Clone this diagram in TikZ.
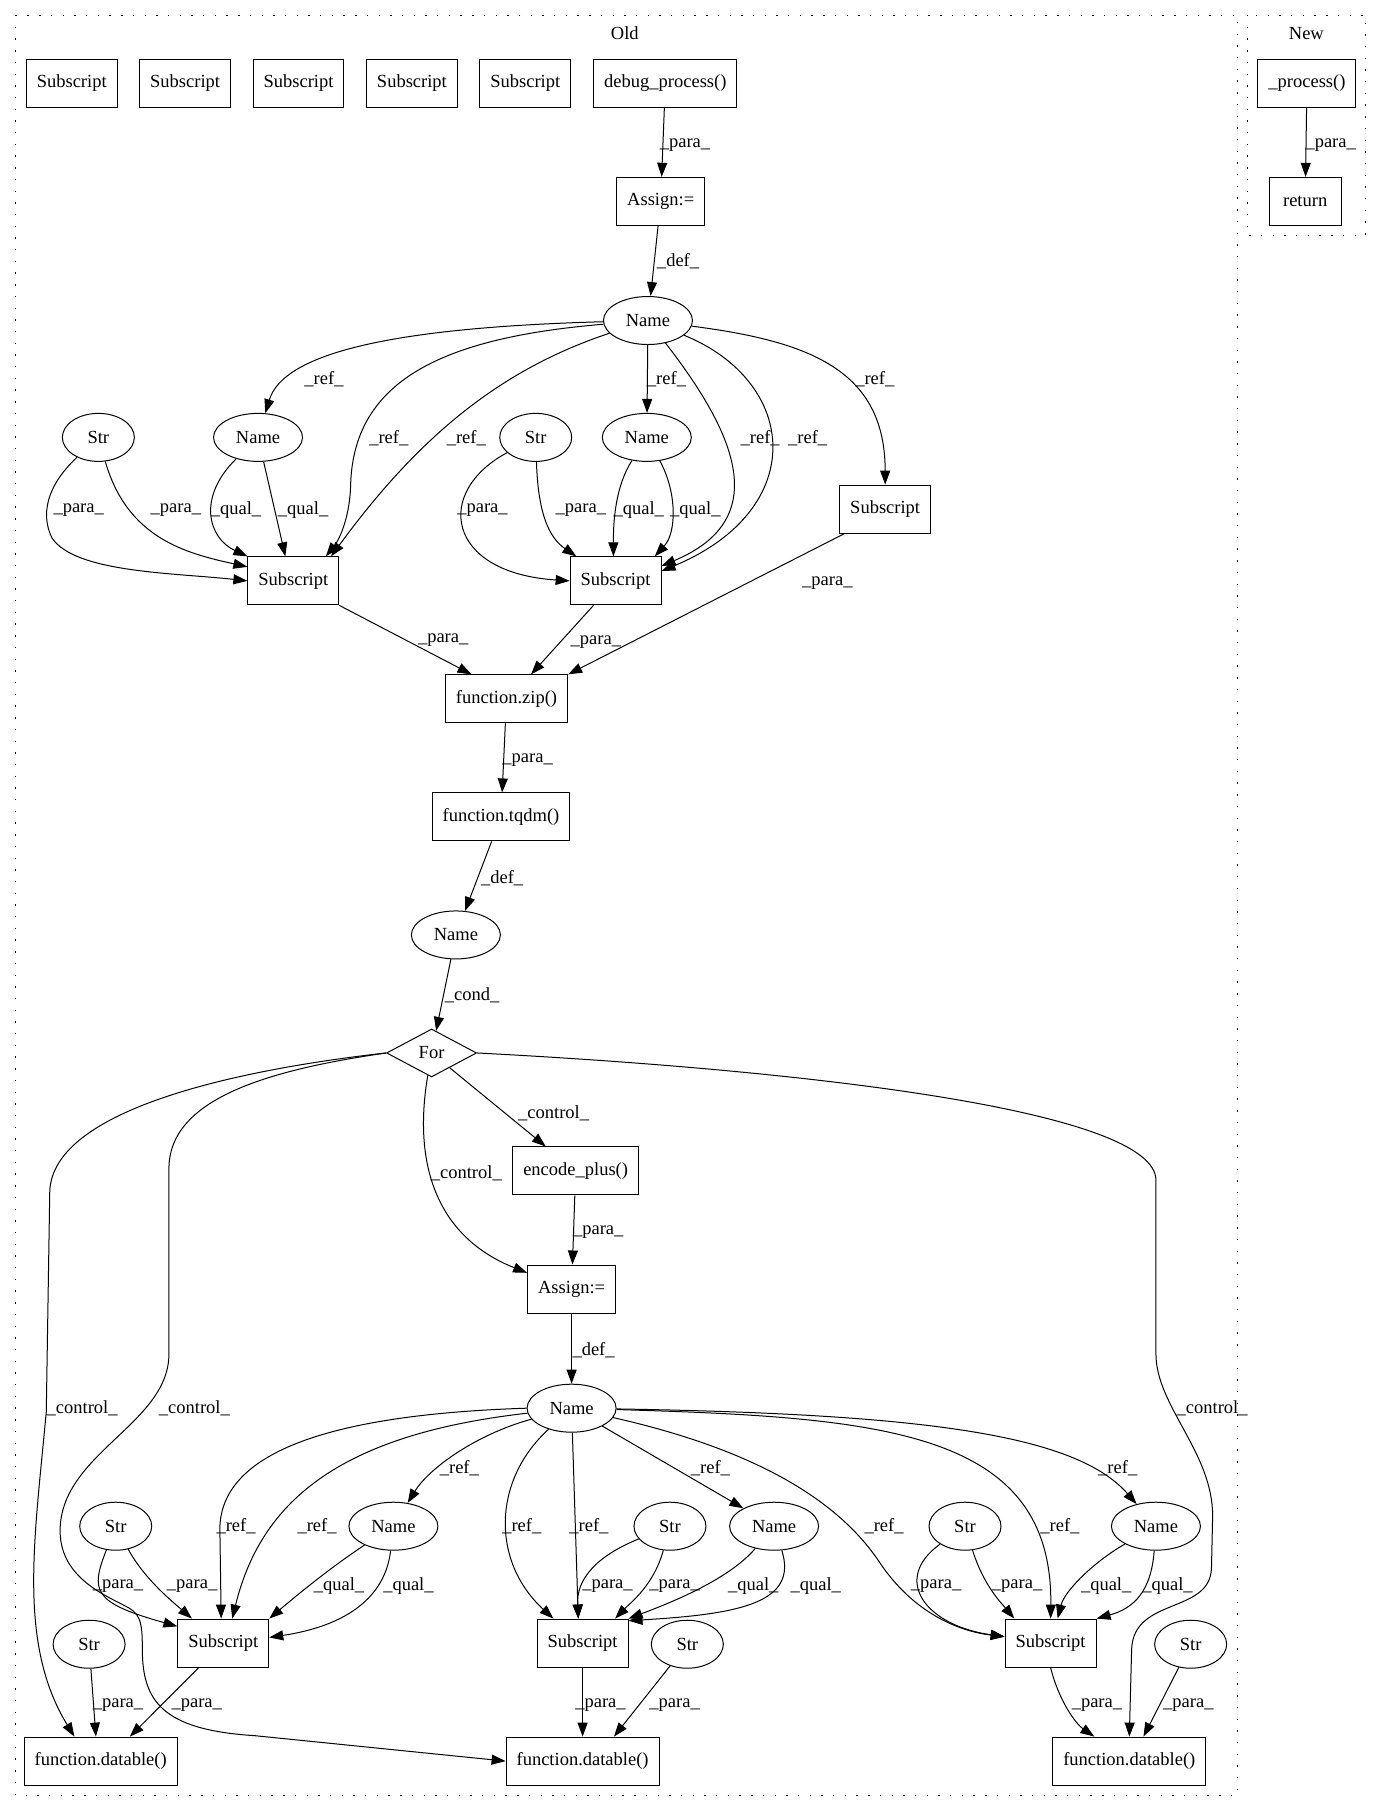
\documentclass[tikz,border=0pt]{standalone}
\usepackage{fontspec}
\setmainfont{Liberation Serif}
\usetikzlibrary{shapes.geometric,arrows.meta}
\tikzset{
  box/.style={draw, rectangle, minimum width=72pt, minimum height=48pt, inner xsep=10.5pt},
  oval/.style={draw, ellipse, minimum width=72pt, minimum height=48pt, inner sep=0pt},
  nameoval/.style={oval, minimum width=89pt},
  cond/.style={draw, diamond, minimum width=90pt, minimum height=48pt, inner sep=0pt},
  lbl/.style={inner sep=0pt},
  edge/.style={-{Triangle[length=14pt,width=10pt]}},
  cluster/.style={dash pattern=on 1.4pt off 10.3pt}
}
\begin{document}
\begin{tikzpicture}[x=1.157pt, y=-1.157pt, line width=1pt, font=\fontsize{18.5}{22}\selectfont]
      \useasboundingbox (0,0) rectangle (1193.6,1566);
      \draw[cluster] (13.5,13) rectangle (1069.5,1551.5);
      \draw[cluster] (1078,13) rectangle (1180,203.5);
      \node (old) at (540,29) {Old};
      \node (new) at (1129,29) {New};

      \node[box] (sub0a) at (62,72) {Subscript};
      \node[box] (sub0b) at (160,72) {Subscript};
      \node[box] (sub0c) at (258,72) {Subscript};
      \node[box] (sub0d) at (356,72) {Subscript};
      \node[box] (sub0e) at (454,72) {Subscript};
      \node[box] (dbg) at (575,72) {debug\_process()};
      \node[box] (asgA) at (571,174) {Assign:=};
      \node[nameoval] (nmA) at (560,277) {Name};
      \node[oval] (strL) at (85,378) {Str};
      \node[nameoval] (nmL) at (223,378) {Name};
      \node[oval] (strR) at (463,378) {Str};
      \node[nameoval] (nmR) at (559,378) {Name};
      \node[box] (subL) at (253.5,502) {Subscript};
      \node[box] (subR) at (532,502) {Subscript};
      \node[box] (subX) at (765,440) {Subscript};
      \node[box] (zipf) at (437.75,604) {function.zip()};
      \node[box] (tqdm) at (433,706) {function.tqdm()};
      \node[nameoval] (nmB) at (394,808) {Name};
      \node[cond] (loop) at (373,910) {For};
      \node[box] (enc) at (497.5,1012) {encode\_plus()};
      \node[box] (asgB) at (494,1114) {Assign:=};
      \node[nameoval] (nmC) at (494,1217) {Name};
      \node[oval] (str1) at (100,1319) {Str};
      \node[nameoval] (nm1) at (340,1319) {Name};
      \node[oval] (str2) at (579,1319) {Str};
      \node[nameoval] (nm2) at (669,1319) {Name};
      \node[oval] (str3) at (834,1319) {Str};
      \node[nameoval] (nm3) at (999,1319) {Name};
      \node[box] (sub1) at (193,1420) {Subscript};
      \node[box] (sub2) at (503.5,1420) {Subscript};
      \node[box] (sub3) at (908,1420) {Subscript};
      \node[oval] (str4) at (77,1421) {Str};
      \node[oval] (str5) at (594,1421) {Str};
      \node[oval] (str6) at (1029,1421) {Str};
      \node[box] (dt1) at (87,1522) {function.datable()};
      \node[box] (dt2) at (503.5,1522) {function.datable()};
      \node[box] (dt3) at (976,1522) {function.datable()};
      \node[box] (proc) at (1129.5,72) {\_process()};
      \node[box] (ret) at (1128,174) {return};

      \begin{scope}[edge]
        \draw (dbg) -- (asgA) node[lbl] at (592,125) {\_para\_};
        \draw (asgA) -- (nmA) node[lbl] at (586,226) {\_def\_};
        \draw (nmA) .. controls (340,283) and (245,305) .. (nmL) node[lbl] at (280,328) {\_ref\_};
        \draw (nmA) .. controls (380,292) and (305,330) .. (303,420) .. controls (302,450) and (292,468) .. (subL.37) node[lbl] at (336,379) {\_ref\_};
        \draw (nmA) .. controls (430,320) and (360,380) .. (subL.33) node[lbl] at (403,379) {\_ref\_};
        \draw (nmA) -- (nmR) node[lbl] at (576,328) {\_ref\_};
        \draw (nmA) .. controls (640,380) and (665,450) .. (subR.18) node[lbl] at (657,379) {\_ref\_};
        \draw (nmA) .. controls (690,330) and (700,440) .. (subR.12) node[lbl] at (698,379) {\_ref\_};
        \draw (nmA) .. controls (700,295) and (765,320) .. (subX) node[lbl] at (756,328) {\_ref\_};
        \draw (strL) .. controls (40,420) and (35,445) .. (45,465) .. controls (65,495) and (150,495) .. (subL.west) node[lbl] at (68,441) {\_para\_};
        \draw (strL) .. controls (110,465) and (160,478) .. (subL.163) node[lbl] at (152,441) {\_para\_};
        \draw (nmL) .. controls (170,430) and (180,465) .. (subL.north west) node[lbl] at (204,441) {\_qual\_};
        \draw (nmL) -- (subL.108) node[lbl] at (262,441) {\_qual\_};
        \draw (strR) .. controls (375,425) and (385,495) .. (subR.west) node[lbl] at (417,441) {\_para\_};
        \draw (strR) .. controls (465,445) and (475,465) .. (subR.148) node[lbl] at (502,441) {\_para\_};
        \draw (nmR) .. controls (532,420) and (530,450) .. (subR.95) node[lbl] at (552,441) {\_qual\_};
        \draw (nmR) .. controls (585,425) and (585,460) .. (subR.32) node[lbl] at (601,441) {\_qual\_};
        \draw (subL.south east) -- (zipf.145) node[lbl] at (383,553) {\_para\_};
        \draw (subR.228) -- (zipf.45) node[lbl] at (515,555) {\_para\_};
        \draw (subX.211) -- (zipf.north east) node[lbl] at (715,504) {\_para\_};
        \draw (zipf) -- (tqdm) node[lbl] at (456,657) {\_para\_};
        \draw (tqdm.249) -- (nmB) node[lbl] at (434,759) {\_def\_};
        \draw (nmB) -- (loop) node[lbl] at (408,860) {\_cond\_};
        \draw (loop) -- (enc) node[lbl] at (478.5,962) {\_control\_};
        \draw (loop) .. controls (356,1010) and (380,1070) .. (asgB.160) node[lbl] at (403,1014) {\_control\_};
        \draw (enc) -- (asgB) node[lbl] at (517,1065) {\_para\_};
        \draw (asgB) -- (nmC) node[lbl] at (513,1167) {\_def\_};
        \draw (loop.west) .. controls (200,925) and (45,960) .. (43,1030) -- (40,1220) .. controls (30,1330) and (15,1420) .. (dt1.137) node[lbl] at (71,1217) {\_control\_};
        \draw (loop.west) .. controls (230,925) and (146,950) .. (146,1010) -- (146,1170) .. controls (146,1230) and (55,1255) .. (52,1320) .. controls (50,1365) and (95,1380) .. (112,1390) .. controls (122,1396) and (123,1405) .. (123,1425) .. controls (123,1470) and (140,1495) .. (220,1500) -- (dt2.west) node[lbl] at (168,1217) {\_control\_};
        \draw (loop.east) .. controls (700,925) and (999,960) .. (999,1020) -- (999,1170) .. controls (999,1215) and (1048,1255) .. (1048,1310) -- (1047,1355) .. controls (1046,1395) and (980,1380) .. (978,1425) -- (dt3.north) node[lbl] at (1047.6,1217) {\_control\_};
        \draw (nmC.west) .. controls (300,1222) and (192,1250) .. (190,1320) -- (sub1.95) node[lbl] at (204,1319) {\_ref\_};
        \draw (nmC) .. controls (290,1240) and (225,1300) .. (sub1.70) node[lbl] at (274,1319) {\_ref\_};
        \draw (nmC) .. controls (410,1240) and (370,1270) .. (nm1) node[lbl] at (397,1269) {\_ref\_};
        \draw (nmC) .. controls (425,1280) and (425,1350) .. (sub2.140) node[lbl] at (451,1319) {\_ref\_};
        \draw (nmC) -- (sub2.100) node[lbl] at (509,1319) {\_ref\_};
        \draw (nmC) -- (nm2) node[lbl] at (614,1269) {\_ref\_};
        \draw (nmC) .. controls (640,1250) and (720,1290) .. (760,1350) .. controls (790,1395) and (830,1410) .. (sub3.172) node[lbl] at (764,1319) {\_ref\_};
        \draw (nmC) .. controls (760,1225) and (910,1235) .. (sub3.north) node[lbl] at (916,1319) {\_ref\_};
        \draw (nmC) .. controls (800,1222) and (930,1240) .. (nm3) node[lbl] at (966,1269) {\_ref\_};
        \draw (str1) .. controls (78,1375) and (80,1385) .. (sub1.160) node[lbl] at (102,1371) {\_para\_};
        \draw (str1) .. controls (125,1365) and (150,1385) .. (sub1.142) node[lbl] at (166,1371) {\_para\_};
        \draw (nm1) .. controls (285,1355) and (255,1380) .. (sub1.north east) node[lbl] at (293,1371) {\_qual\_};
        \draw (nm1) .. controls (333,1380) and (300,1405) .. (sub1.7) node[lbl] at (353,1371) {\_qual\_};
        \draw (str2) .. controls (515,1345) and (498,1365) .. (sub2.100) node[lbl] at (525,1371) {\_para\_};
        \draw (str2) .. controls (565,1370) and (545,1385) .. (sub2.37) node[lbl] at (583,1371) {\_para\_};
        \draw (nm2) .. controls (630,1365) and (580,1385) .. (sub2.north east) node[lbl] at (651,1371) {\_qual\_};
        \draw (nm2) .. controls (690,1385) and (640,1395) .. (sub2.26) node[lbl] at (705,1371) {\_qual\_};
        \draw (str3) .. controls (770,1365) and (800,1405) .. (sub3.172) node[lbl] at (809,1371) {\_para\_};
        \draw (str3) .. controls (850,1370) and (865,1385) .. (sub3.146) node[lbl] at (879,1371) {\_para\_};
        \draw (nm3) .. controls (945,1350) and (920,1375) .. (sub3.74) node[lbl] at (956,1371) {\_qual\_};
        \draw (nm3) .. controls (995,1375) and (980,1390) .. (sub3.north east) node[lbl] at (1009,1371) {\_qual\_};
        \draw (str4) -- (dt1.101) node[lbl] at (102,1474) {\_para\_};
        \draw (sub1.225) -- (dt1.40) node[lbl] at (170,1474) {\_para\_};
        \draw (sub2) -- (dt2) node[lbl] at (519,1474) {\_para\_};
        \draw (str5) -- (dt2.38) node[lbl] at (583,1474) {\_para\_};
        \draw (sub3.south) .. controls (915,1470) and (930,1490) .. (dt3.145) node[lbl] at (948,1474) {\_para\_};
        \draw (str6) -- (dt3.60) node[lbl] at (1027,1474) {\_para\_};
        \draw (proc) -- (ret) node[lbl] at (1150,125) {\_para\_};
      \end{scope}
    \end{tikzpicture}
\end{document}
